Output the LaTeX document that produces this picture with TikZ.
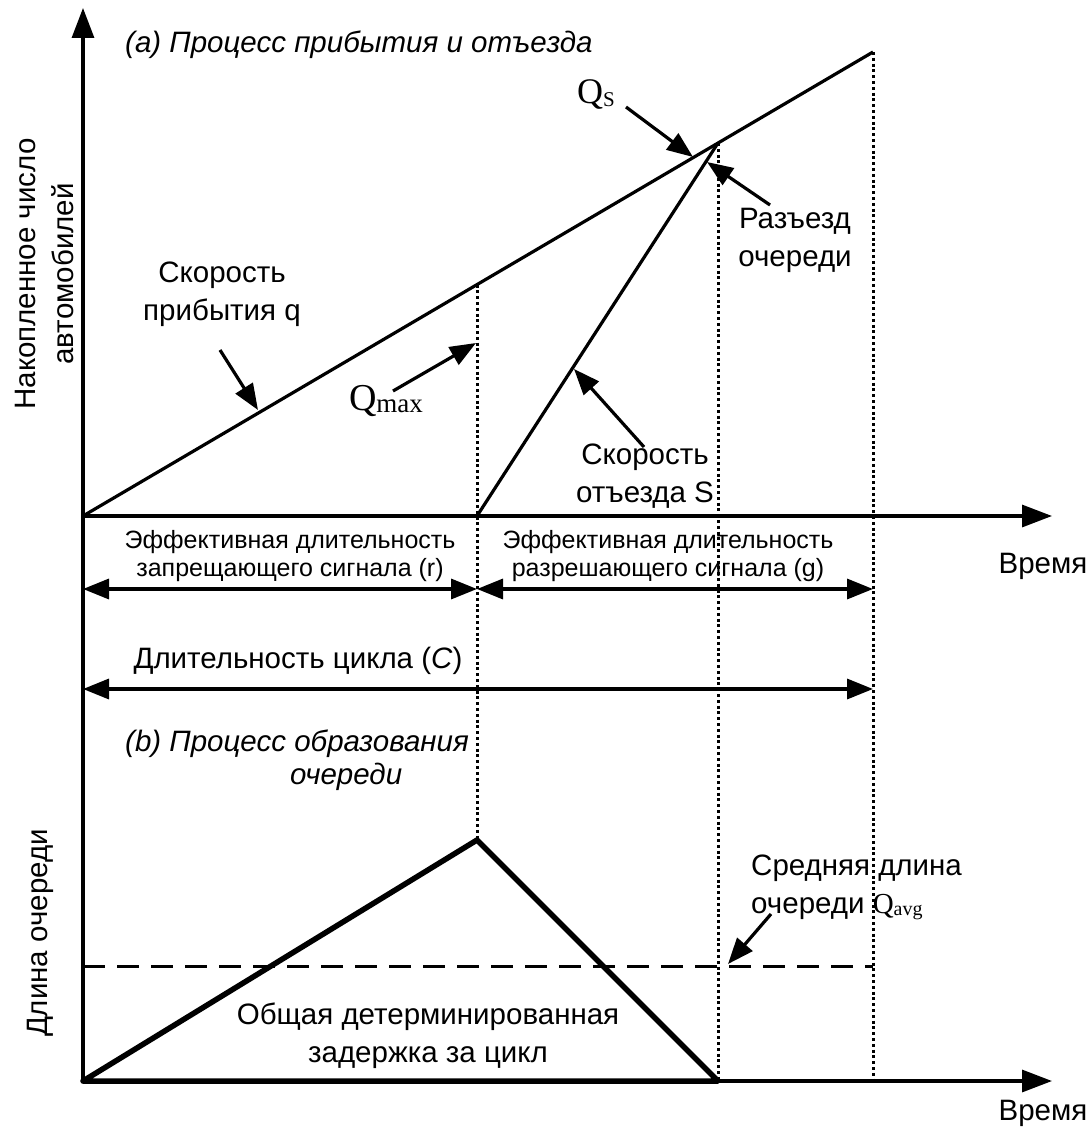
\documentclass[tikz,border=0pt]{standalone}
\usepackage{fontspec}
\setmainfont{Liberation Sans}
\newfontfamily\tms{Liberation Serif}
\usetikzlibrary{arrows.meta}
\begin{document}
\begin{tikzpicture}[x=1pt,y=-1pt,
  ln/.style={line width=3.2pt},
  dots/.style={line width=3pt, dash pattern=on 3pt off 2.8pt},
  ax/.style={line width=3.2pt,-{Triangle[length=30pt,width=22pt]}},
  ptr/.style={line width=3.2pt,-{Triangle[length=26pt,width=20pt]}},
  dbl/.style={line width=3.4pt,{Triangle[length=26pt,width=20pt]}-{Triangle[length=26pt,width=20pt]}},
  lbl/.style={font=\fontsize{29.5}{38}\selectfont, align=center, inner sep=0pt},
  sm/.style={font=\fontsize{25}{28}\selectfont, align=center, inner sep=0pt},
  ttl/.style={font=\fontsize{29.5}{33}\selectfont\itshape, align=left, inner sep=0pt}]
\useasboundingbox (0,0) rectangle (1087,1131);
% key points
\coordinate (O) at (83,516);
\coordinate (Ytop) at (83,8);
\coordinate (Xend) at (1052,516);
\coordinate (B0) at (83,1081);
\coordinate (Bend) at (1052,1081);
\coordinate (A) at (873,52);
\coordinate (M) at (477,284.6);
\coordinate (R) at (477,516);
\coordinate (P) at (718,143);
\coordinate (Pk) at (477,840);
\coordinate (Gz) at (718,1081);
\coordinate (Cz) at (873,1081);
\coordinate (Av0) at (83,966);
\coordinate (Av1) at (873,966);
\coordinate (r0) at (83,589);
\coordinate (r1) at (477,589);
\coordinate (g1) at (873,589);
\coordinate (c0) at (83,689);
\coordinate (c1) at (873,689);
% targets of pointers
\coordinate (tQs) at (693,157);
\coordinate (tRz) at (707,162);
\coordinate (tQ) at (258,410);
\coordinate (tQm) at (476,343);
\coordinate (tS) at (574,369);
\coordinate (tAv) at (728,964);
% axes
\draw[ax] (B0) -- (Ytop);
\draw[ax] (O) -- (Xend);
\draw[ax] (B0) -- (Bend);
% curves
\draw[ln] (O) -- (A);
\draw[ln] (R) -- (P);
\draw[dots] (M) -- (Pk);
\draw[dots] (P) -- (Gz);
\draw[dots] (A) -- (Cz);
\draw[line width=5.5pt, line join=round] (B0) -- (Pk) -- (Gz) -- cycle;
\draw[line width=3pt, dash pattern=on 22pt off 12pt] (Av0) -- (Av1);
% double arrows
\draw[dbl] (r0) -- (r1);
\draw[dbl] (r1) -- (g1);
\draw[dbl] (c0) -- (c1);
% labels
\node[ttl, anchor=west] (ta) at (125,45) {(a) Процесс прибытия и отъезда};
\node[inner sep=0pt] (qs) at (596,95) {\tms\fontsize{36}{36}\selectfont Q\raisebox{-3pt}{\fontsize{21}{21}\selectfont S}};
\node[lbl] (rz) at (795,240) {Разъезд\\очереди};
\node[lbl] (vq) at (222,294) {Скорость\\прибытия q};
\node[inner sep=0pt] (qm) at (386,401) {\tms\fontsize{38}{38}\selectfont Q\raisebox{-2pt}{\fontsize{27}{27}\selectfont max}};
\node[lbl] (vs) at (645,476) {Скорость\\отъезда S};
\node[sm] (er) at (290,556) {Эффективная длительность\\запрещающего сигнала (r)};
\node[sm] (eg) at (668,556) {Эффективная длительность\\разрешающего сигнала (g)};
\node[lbl] (t1) at (1043,566) {Время};
\node[lbl] (cy) at (298,661) {Длительность цикла (\textit{C})};
\node[ttl, anchor=north west] (tb) at (125,730) {(b) Процесс образования\\\hspace*{165pt}очереди};
\node[lbl, align=left, anchor=north west] (av) at (751,855) {Средняя длина\\очереди {\tms\fontsize{29}{29}\selectfont Q\raisebox{-2pt}{\fontsize{20}{20}\selectfont avg}}};
\node[lbl] (tot) at (428,1036) {Общая детерминированная\\задержка за цикл};
\node[lbl] (t2) at (1043,1113) {Время};
\node[lbl, rotate=90] (ya) at (44,274) {Накопленное число\\автомобилей};
\node[lbl, rotate=90] (yb) at (40,933) {Длина очереди};
% pointers
\draw[ptr] (626,107) -- (tQs);
\draw[ptr] (770,205) -- (tRz);
\draw[ptr] (220,350) -- (tQ);
\draw[ptr] (393,391) -- (tQm);
\draw[ptr] (644,447) -- (tS);
\draw[ptr] (771,914) -- (tAv);
\end{tikzpicture}
\end{document}
